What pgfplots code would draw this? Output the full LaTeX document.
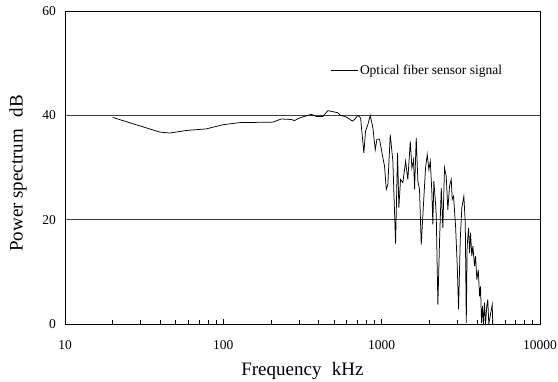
\documentclass[border=0pt]{standalone}
\usepackage{pgfplots}
\pgfplotsset{compat=1.18}
\usepackage{fontspec}
\setmainfont{Liberation Serif}
\begin{document}
\begin{tikzpicture}
\begin{axis}[
  at={(0pt,0pt)}, anchor=south west,
  scale only axis, width=475pt, height=313pt,
  xmode=log, xmin=10, xmax=10000, ymin=0, ymax=60,
  xtick={10,100,1000,10000}, xticklabels={10,100,1000,10000},
  minor xtick={20,30,40,50,60,70,80,90,200,300,400,500,600,700,800,900,2000,3000,4000,5000,6000,7000,8000,9000},
  ytick={0,20,40,60}, yticklabels={0,20,40,60},
  xtick pos=bottom, tick align=inside,
  major tick length=5pt, minor tick length=4pt,
  ytick style={draw=none},
  ymajorgrids, grid style={black!75, line width=0.8pt},
  axis line style={line width=0.8pt},
  tick style={black, line width=0.6pt},
  /pgf/number format/assume math mode=true,
  tick label style={font=\fontsize{13.5}{16}\selectfont},
  xticklabel style={yshift=-13pt},
  yticklabel style={xshift=-5.5pt},
  xlabel={Frequency\hspace{0.55em}kHz},
  xlabel style={font=\fontsize{19}{22}\selectfont, at={(axis description cs:0.5,0)}, anchor=base, yshift=-52pt},
  ylabel={Power spectrum\hspace{0.6em}dB},
  ylabel style={font=\fontsize{19}{22}\selectfont, at={(axis description cs:-0.099,0.481)}, anchor=center},
  legend style={at={(axis description cs:0.558,0.811)}, anchor=west, draw=none, fill=none, inner sep=0pt,
    font=\fontsize{13.5}{16}\selectfont},
  legend image code/.code={\draw[#1] (0pt,0pt) -- (27pt,0pt);},
]
\addplot[black, line width=0.75pt] coordinates {
(20,39.6) (39.6,36.8) (45.8,36.6) (58.4,37.1) (78.1,37.4) (99.4,38.2) (126.7,38.6)
(205.6,38.7) (232.3,39.3) (268.6,39.2) (281.9,39.0) (303,39.5) (359.6,40.2) (386.5,39.8)
(425.6,39.8) (457.6,40.9) (492,40.7) (529,40.5) (548,40.0) (583,39.8) (612,39.5)
(652,38.9) (674,39.2) (708,40.0) (736,39.5) (772,32.8) (791,37.0) (818,38.2) (847,40.0)
(880,37.6) (911,33.4) (933,35.4) (970,35.4) (1009,32.5) (1043,30.2) (1069,25.8)
(1094,26.7) (1133,36.3) (1177,31.2) (1224,15.4) (1260,32.8) (1284,22.3) (1316,27.7)
(1361,27.1) (1416,31.2) (1463,27.7) (1516,35.0) (1552,29.9) (1590,31.5) (1614,25.8)
(1653,35.7) (1693,27.4) (1734,25.8) (1778,15.2) (1839,23.2) (1893,29.9) (1940,32.5)
(1987,29.6) (2029,31.2) (2076,25.1) (2105,19.1) (2136,27.4) (2180,23.9) (2211,21.0)
(2265,3.7) (2322,16.2) (2379,26.1) (2434,18.4) (2495,29.9) (2557,28.3) (2618,21.9)
(2683,26.4) (2750,27.7) (2791,23.9) (2844,24.5) (2930,18.7) (3002,11.1) (3060,2.8)
(3136,16.2) (3209,22.3) (3305,24.5) (3373,19.4) (3423,0.2) (3467,14.9) (3538,18.4)
(3590,13.6) (3642,17.5) (3710,13.0) (3767,14.9) (3862,11.1) (3917,13.0) (3993,8.5)
(4075,10.4) (4152,5.3) (4211,7.2) (4274,0.2) (4334,3.4) (4395,0) (4462,4.1) (4528,0)
(4613,3.4) (4679,4.7) (4749,0) (4989,3.7) (5034,0)
};
\addlegendentry{Optical fiber sensor signal}
\end{axis}
\pgfresetboundingbox
\path[use as bounding box] (-65pt,-58pt) rectangle (493pt,324pt);
\end{tikzpicture}
\end{document}
